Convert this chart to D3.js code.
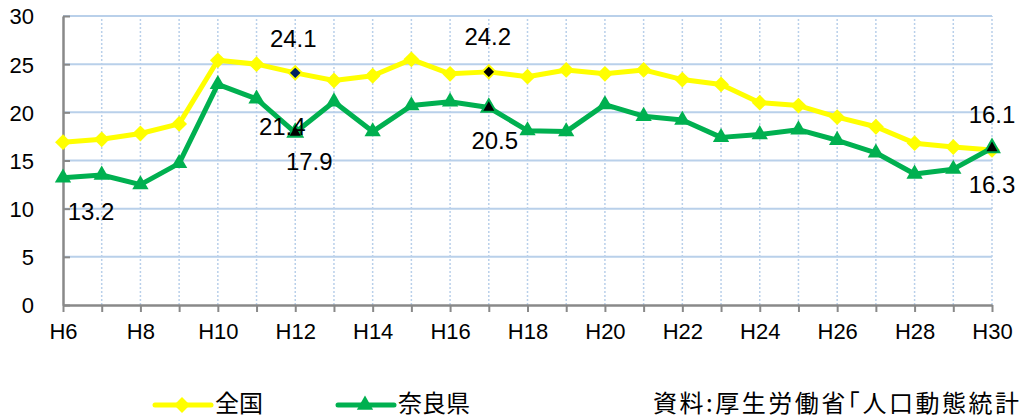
<!DOCTYPE html>
<html>
<head>
<meta charset="utf-8">
<script src="https://cdn.jsdelivr.net/npm/d3@7"></script>
<style>
  body { margin: 0; background: #fff; }
  svg { display: block; }
</style>
</head>
<body>
<div id="chart"></div>
<script>
// 自殺死亡率 (人口10万対)
const years = ["H6","H7","H8","H9","H10","H11","H12","H13","H14","H15","H16","H17","H18",
               "H19","H20","H21","H22","H23","H24","H25","H26","H27","H28","H29","H30"];
const zenkoku = [16.9,17.2,17.8,18.8,25.4,25.0,24.1,23.3,23.8,25.5,24.0,24.2,23.7,
                 24.4,24.0,24.4,23.4,22.9,21.0,20.7,19.5,18.5,16.8,16.4,16.1];
const nara = [13.2,13.5,12.5,14.7,22.9,21.4,17.9,21.1,18.0,20.7,21.1,20.5,18.1,
              18.0,20.8,19.6,19.2,17.4,17.7,18.2,17.1,15.8,13.6,14.1,16.3];
const tickLabels = ["H6","H8","H10","H12","H14","H16","H18","H20","H22","H24","H26","H28","H30"];
const yTicks = [0,5,10,15,20,25,30];
const seriesNames = ["全国", "奈良県"];
const sourceText = "資料:厚生労働省｢人口動態統計";

const W = 1021, H = 418;
const svg = d3.select("#chart").append("svg")
    .attr("width", W)
    .attr("height", H);

const x = d3.scalePoint().domain(years).range([63, 992]);
const y = d3.scaleLinear().domain([0, 30]).range([305, 16]);

const numFont = "'Liberation Sans', Arial, sans-serif";
const jpFont = "'Noto Sans CJK JP', sans-serif";

// grid
svg.append("g")
    .selectAll("line")
    .data(yTicks.slice(1))
    .enter().append("line")
    .attr("x1", x.range()[0]).attr("x2", x.range()[1])
    .attr("y1", d => y(d)).attr("y2", d => y(d))
    .attr("stroke", "#b9d0ea")
    .attr("stroke-width", 2);

svg.append("g")
    .selectAll("line")
    .data(years.slice(1))
    .enter().append("line")
    .attr("x1", d => x(d)).attr("x2", d => x(d))
    .attr("y1", y(0)).attr("y2", y(30))
    .attr("stroke", "#b9d0ea")
    .attr("stroke-width", 1.5)
    .attr("stroke-dasharray", "2,2");

// axes
const xAxis = svg.append("g")
    .attr("transform", `translate(0,${y(0)})`)
    .call(d3.axisBottom(x).tickSize(7).tickSizeOuter(0)
        .tickFormat(d => tickLabels.includes(d) ? d : ""));
xAxis.select(".domain").attr("stroke", "#898989").attr("stroke-width", 2.5);
xAxis.selectAll(".tick line").attr("stroke", "#898989").attr("stroke-width", 2);
xAxis.selectAll("text")
    .attr("y", 18)
    .style("font-family", numFont)
    .style("font-size", "22px")
    .attr("fill", "#000");

const yAxis = svg.append("g")
    .attr("transform", `translate(${x.range()[0]},0)`)
    .call(d3.axisLeft(y).tickValues(yTicks).tickSizeInner(-7).tickSizeOuter(0).tickPadding(29));
yAxis.select(".domain").attr("stroke", "#898989").attr("stroke-width", 2.5);
yAxis.selectAll(".tick line").attr("stroke", "#898989").attr("stroke-width", 2);
yAxis.selectAll("text")
    .attr("dy", "0.36em")
    .style("font-family", numFont)
    .style("font-size", "22px")
    .attr("fill", "#000");

// lines
const line = d3.line()
    .x((d, i) => x(years[i]))
    .y(d => y(d));

function drawSeries(values, color, sym, hl, hlSym) {
    const g = svg.append("g");
    g.append("path")
        .datum(values)
        .attr("d", line)
        .attr("fill", "none")
        .attr("stroke", color)
        .attr("stroke-width", 5)
        .attr("stroke-linejoin", "round");
    g.selectAll("path.m")
        .data(values)
        .enter().append("path")
        .attr("class", "m")
        .attr("transform", (d, i) => `translate(${x(years[i])},${y(d)})`)
        .attr("d", (d, i) => hl[years[i]] ? hlSym() : sym())
        .attr("fill", (d, i) => hl[years[i]] || color)
        .attr("stroke", color)
        .attr("stroke-width", (d, i) => hl[years[i]] ? 2 : 0);
}

drawSeries(zenkoku, "#ffff00", d3.symbol().type(d3.symbolDiamond2).size(160),
    { H12: "#002060", H17: "#000" },
    d3.symbol().type(d3.symbolDiamond2).size(110));

drawSeries(nara, "#00b050", d3.symbol().type(d3.symbolTriangle2).size(190),
    { H12: "#000", H17: "#000", H30: "#000" },
    d3.symbol().type(d3.symbolTriangle2).size(150));

// data labels
const labels = [
    { t: "24.1", k: "H12", v: zenkoku[6], dx: -2, dy: -26 },
    { t: "24.2", k: "H17", v: zenkoku[11], dx: -1, dy: -27 },
    { t: "16.1", k: "H30", v: zenkoku[24], dx: 0, dy: -27 },
    { t: "13.2", k: "H6", v: nara[0], dx: 28, dy: 42 },
    { t: "21.4", k: "H12", v: nara[6], dx: -13, dy: 2 },
    { t: "17.9", k: "H12", v: nara[6], dx: 14, dy: 37 },
    { t: "20.5", k: "H17", v: nara[11], dx: 6, dy: 41 },
    { t: "16.3", k: "H30", v: nara[24], dx: 0, dy: 45 }
];
svg.append("g")
    .selectAll("text")
    .data(labels)
    .enter().append("text")
    .attr("x", d => x(d.k) + d.dx)
    .attr("y", d => y(d.v) + d.dy)
    .attr("text-anchor", "middle")
    .style("font-family", numFont)
    .style("font-size", "24px")
    .text(d => d.t);

// legend
const lg = svg.append("g");
const legendItems = [
    { name: seriesNames[0], color: "#ffff00", sym: d3.symbol().type(d3.symbolDiamond2).size(160), x0: 155 },
    { name: seriesNames[1], color: "#00b050", sym: d3.symbol().type(d3.symbolTriangle2).size(190), x0: 338 }
];
legendItems.forEach(it => {
    lg.append("line")
        .attr("x1", it.x0).attr("x2", it.x0 + 56)
        .attr("y1", 405).attr("y2", 405)
        .attr("stroke", it.color)
        .attr("stroke-width", 5)
        .attr("stroke-linecap", "round");
    lg.append("path")
        .attr("transform", `translate(${it.x0 + 27},405)`)
        .attr("d", it.sym())
        .attr("fill", it.color);
    lg.append("text")
        .attr("x", it.x0 + 60)
        .attr("y", 412)
        .style("font-family", jpFont)
        .style("font-size", "24px")
        .text(it.name);
});

svg.append("text")
    .attr("x", 653)
    .attr("y", 412)
    .attr("textLength", 366)
    .attr("lengthAdjust", "spacing")
    .style("font-family", jpFont)
    .style("font-size", "24px")
    .text(sourceText);
</script>
</body>
</html>
